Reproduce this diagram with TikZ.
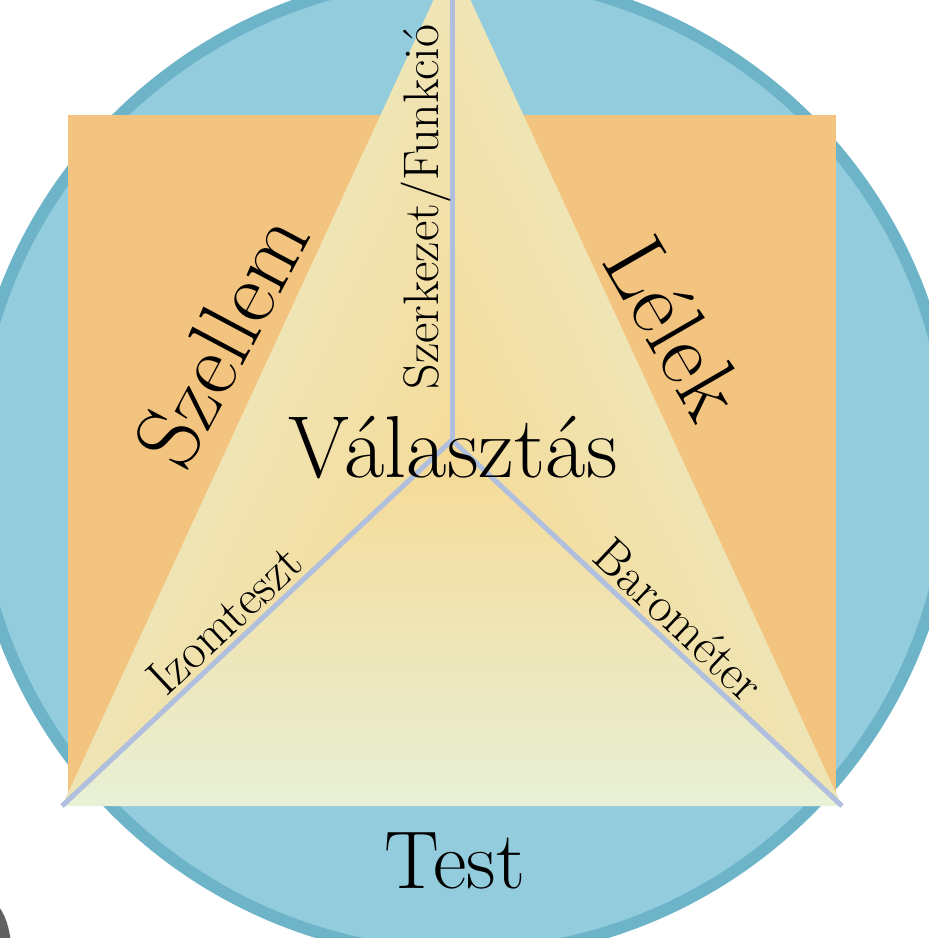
\documentclass[tikz,border=0pt]{standalone}
\usetikzlibrary{positioning}

\definecolor{discfill}{HTML}{93CCDD}
\definecolor{discrim}{HTML}{6DB4C8}
\definecolor{squarefill}{HTML}{F3C47F}
\definecolor{facewarm}{HTML}{F6D993}
\definecolor{facepale}{HTML}{E8F0D6}
\definecolor{ridgeline}{HTML}{AFBFDD}

\tikzset{
  ridge/.style={ridgeline, line width=5pt},
  bigword/.style={font=\fontsize{90}{90}\selectfont},
  smallword/.style={font=\fontsize{50}{50}\selectfont, inner sep=1pt},
}

\begin{document}
\begin{tikzpicture}[x=1pt, y=-1pt]
\useasboundingbox (0,0) rectangle (929,938);
\clip (0,0) rectangle (929,938);

% disc and square behind the pyramid
\draw[discrim, line width=12pt, fill=discfill] (462,465) circle (489);
\fill[squarefill] (68,115) rectangle (836,806);

% pyramid corners
\coordinate (apex) at (452,-40);
\coordinate (base-left) at (62,806);
\coordinate (base-right) at (842,806);
\coordinate (peak) at (452,440);

% the three faces
\shade[top color=facepale, middle color=facewarm!90!facepale, bottom color=facewarm, shading angle=65]
  (apex) -- (base-left) -- (peak) -- cycle;
\shade[top color=facepale, middle color=facewarm!90!facepale, bottom color=facewarm, shading angle=-65]
  (apex) -- (base-right) -- (peak) -- cycle;
\shade[top color=facewarm, middle color=facewarm!90!facepale, bottom color=facepale]
  (base-left) -- (base-right) -- (peak) -- cycle;

% ridges
\draw[ridge] (peak) -- (apex);
\draw[ridge] (peak) -- (base-left);
\draw[ridge] (peak) -- (base-right);

% labels on the ridges
\path (peak) -- (apex) node[pos=0.485, sloped, above, smallword] (label-structure) {Szerkezet/Funkció};
\path (peak) -- (base-left) node[pos=0.54, sloped, above=6pt, smallword] (label-muscle) {Izomteszt};
\path (peak) -- (base-right) node[pos=0.54, sloped, above=6pt, smallword] (label-barometer) {Barométer};

% big words
\node[bigword, rotate=62] (label-spirit) at (222,340) {Szellem};
\node[bigword, rotate=-60] (label-soul) at (675,328) {Lélek};
\node[font=\fontsize{88}{88}\selectfont, anchor=base] (label-choice) at (453,477) {Választás};
\node[font=\fontsize{82}{82}\selectfont, anchor=base] (label-body) at (455,888) {Test};

% grey corner mark
\fill[black!62] (-10,960) ellipse (22 and 58);
\end{tikzpicture}
\end{document}
